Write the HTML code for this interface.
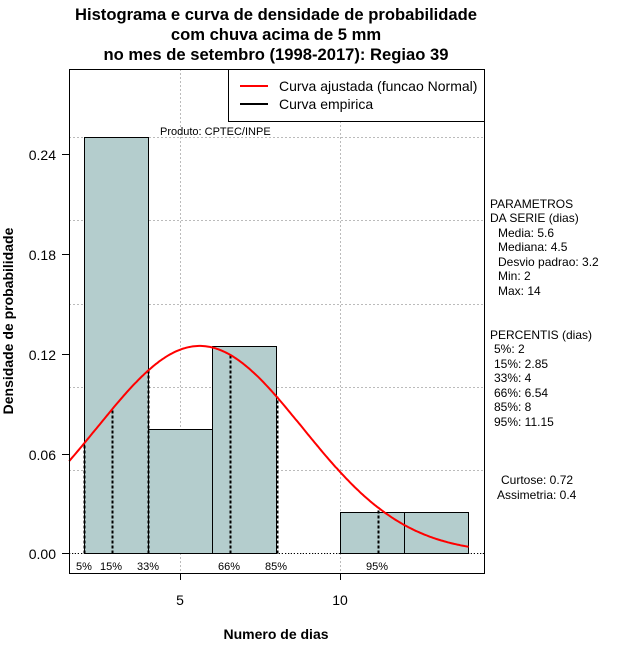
<!DOCTYPE html>
<html><head><meta charset="utf-8"><style>
html,body{margin:0;padding:0;background:#fff}
svg{display:block;font-family:"Liberation Sans",sans-serif}
</style></head><body>
<svg id="s" width="640" height="660" viewBox="0 0 640 660" xmlns="http://www.w3.org/2000/svg">
<rect width="640" height="660" fill="#fff"/>
<g font-weight="bold" font-size="16.6" text-anchor="middle" fill="#000">
<text x="276" y="20">Histograma e curva de densidade de probabilidade</text>
<text x="276" y="40">com chuva acima de 5 mm</text>
<text x="276" y="60">no mes de setembro (1998-2017): Regiao 39</text>
</g>
<g stroke="#bbb" stroke-width="1" stroke-dasharray="2,2">
<line x1="180.5" y1="69" x2="180.5" y2="573"/>
<line x1="340.5" y1="69" x2="340.5" y2="573"/>
<line x1="69" y1="553.5" x2="484" y2="553.5"/>
<line x1="69" y1="470.5" x2="484" y2="470.5"/>
<line x1="69" y1="387.5" x2="484" y2="387.5"/>
<line x1="69" y1="304.5" x2="484" y2="304.5"/>
<line x1="69" y1="220.5" x2="484" y2="220.5"/>
<line x1="69" y1="137.5" x2="484" y2="137.5"/>
</g>
<g fill="#b4cdcd" stroke="#000" stroke-width="1">
<rect x="84.5" y="137.5" width="64" height="416"/>
<rect x="148.5" y="429.5" width="64" height="124"/>
<rect x="212.5" y="346.5" width="64" height="207"/>
<rect x="340.5" y="512.5" width="64" height="41"/>
<rect x="404.5" y="512.5" width="64" height="41"/>
</g>
<g stroke="#000" stroke-width="1" stroke-dasharray="1,2">
<line x1="84.5" y1="137.5" x2="148.5" y2="137.5"/>
<line x1="69" y1="553.5" x2="484" y2="553.5"/>
</g>
<g id="pct" stroke="#000" stroke-width="2" stroke-dasharray="3,2"></g>
<path id="curve" fill="none" stroke="#f00" stroke-width="2"/>
<rect x="69.5" y="69.5" width="415" height="504" fill="none" stroke="#000"/>
<rect x="228.5" y="69.5" width="256" height="52" fill="#fff" stroke="#000"/>
<line x1="240" y1="86" x2="268" y2="86" stroke="#f00" stroke-width="2"/>
<line x1="240" y1="104" x2="268" y2="104" stroke="#000" stroke-width="2"/>
<g font-size="14"><text x="279" y="91">Curva ajustada (funcao Normal)</text><text x="279" y="109">Curva empirica</text></g>
<text x="160" y="135" font-size="11">Produto: CPTEC/INPE</text>
<g font-size="11" text-anchor="middle">
<text x="84" y="570">5%</text><text x="111" y="570">15%</text><text x="148" y="570">33%</text>
<text x="229" y="570">66%</text><text x="276" y="570">85%</text><text x="377" y="570">95%</text>
</g>
<g stroke="#000">
<line x1="180.5" y1="573" x2="180.5" y2="580"/><line x1="340.5" y1="573" x2="340.5" y2="580"/>
<line x1="62" y1="553.5" x2="69" y2="553.5"/><line x1="62" y1="454.5" x2="69" y2="454.5"/>
<line x1="62" y1="354.5" x2="69" y2="354.5"/><line x1="62" y1="254.5" x2="69" y2="254.5"/>
<line x1="62" y1="154.5" x2="69" y2="154.5"/>
</g>
<g font-size="14" text-anchor="middle">
<text x="180" y="605">5</text><text x="340" y="605">10</text>
</g>
<g font-size="14" text-anchor="end">
<text x="56" y="559">0.00</text><text x="56" y="460">0.06</text><text x="56" y="360">0.12</text>
<text x="56" y="260">0.18</text><text x="56" y="160">0.24</text>
</g>
<text x="276" y="639" font-size="14" font-weight="bold" text-anchor="middle">Numero de dias</text>
<text transform="translate(13,321) rotate(-90)" font-size="14" font-weight="bold" text-anchor="middle">Densidade de probabilidade</text>
<g font-size="12">
<text x="490" y="208">PARAMETROS</text>
<text x="490" y="222">DA SERIE (dias)</text>
<text x="498" y="237">Media: 5.6</text>
<text x="498" y="251">Mediana: 4.5</text>
<text x="498" y="266">Desvio padrao: 3.2</text>
<text x="498" y="280">Min: 2</text>
<text x="498" y="295">Max: 14</text>
<text x="490" y="339">PERCENTIS (dias)</text>
<text x="494" y="353">5%: 2</text>
<text x="494" y="368">15%: 2.85</text>
<text x="494" y="382">33%: 4</text>
<text x="494" y="397">66%: 6.54</text>
<text x="494" y="411">85%: 8</text>
<text x="494" y="426">95%: 11.15</text>
<text x="501" y="484">Curtose: 0.72</text>
<text x="497" y="499">Assimetria: 0.4</text>
</g>
</svg>
<script>
(function(){
var m=5.6,s=3.2;
function X(v){return 20.1+32.08*v;}
function Y(d){return 553.5-d*1665;}
function f(v){return Math.exp(-0.5*Math.pow((v-m)/s,2))/(s*Math.sqrt(2*Math.PI));}
var d="";
for(var v=1.53;v<=14.001;v+=0.05){d+=(d?"L":"M")+X(v).toFixed(1)+","+Y(f(v)).toFixed(1);}
document.getElementById("curve").setAttribute("d",d);
var g=document.getElementById("pct");
[2,2.85,4,6.54,8,11.15].forEach(function(p){
var l=document.createElementNS("http://www.w3.org/2000/svg","line");
var x=Math.round(X(p))+0.5;
l.setAttribute("x1",x);l.setAttribute("x2",x);
l.setAttribute("y1",553.5);l.setAttribute("y2",Y(f(p)).toFixed(1));
g.appendChild(l);
});
})();
</script>
</body></html>
